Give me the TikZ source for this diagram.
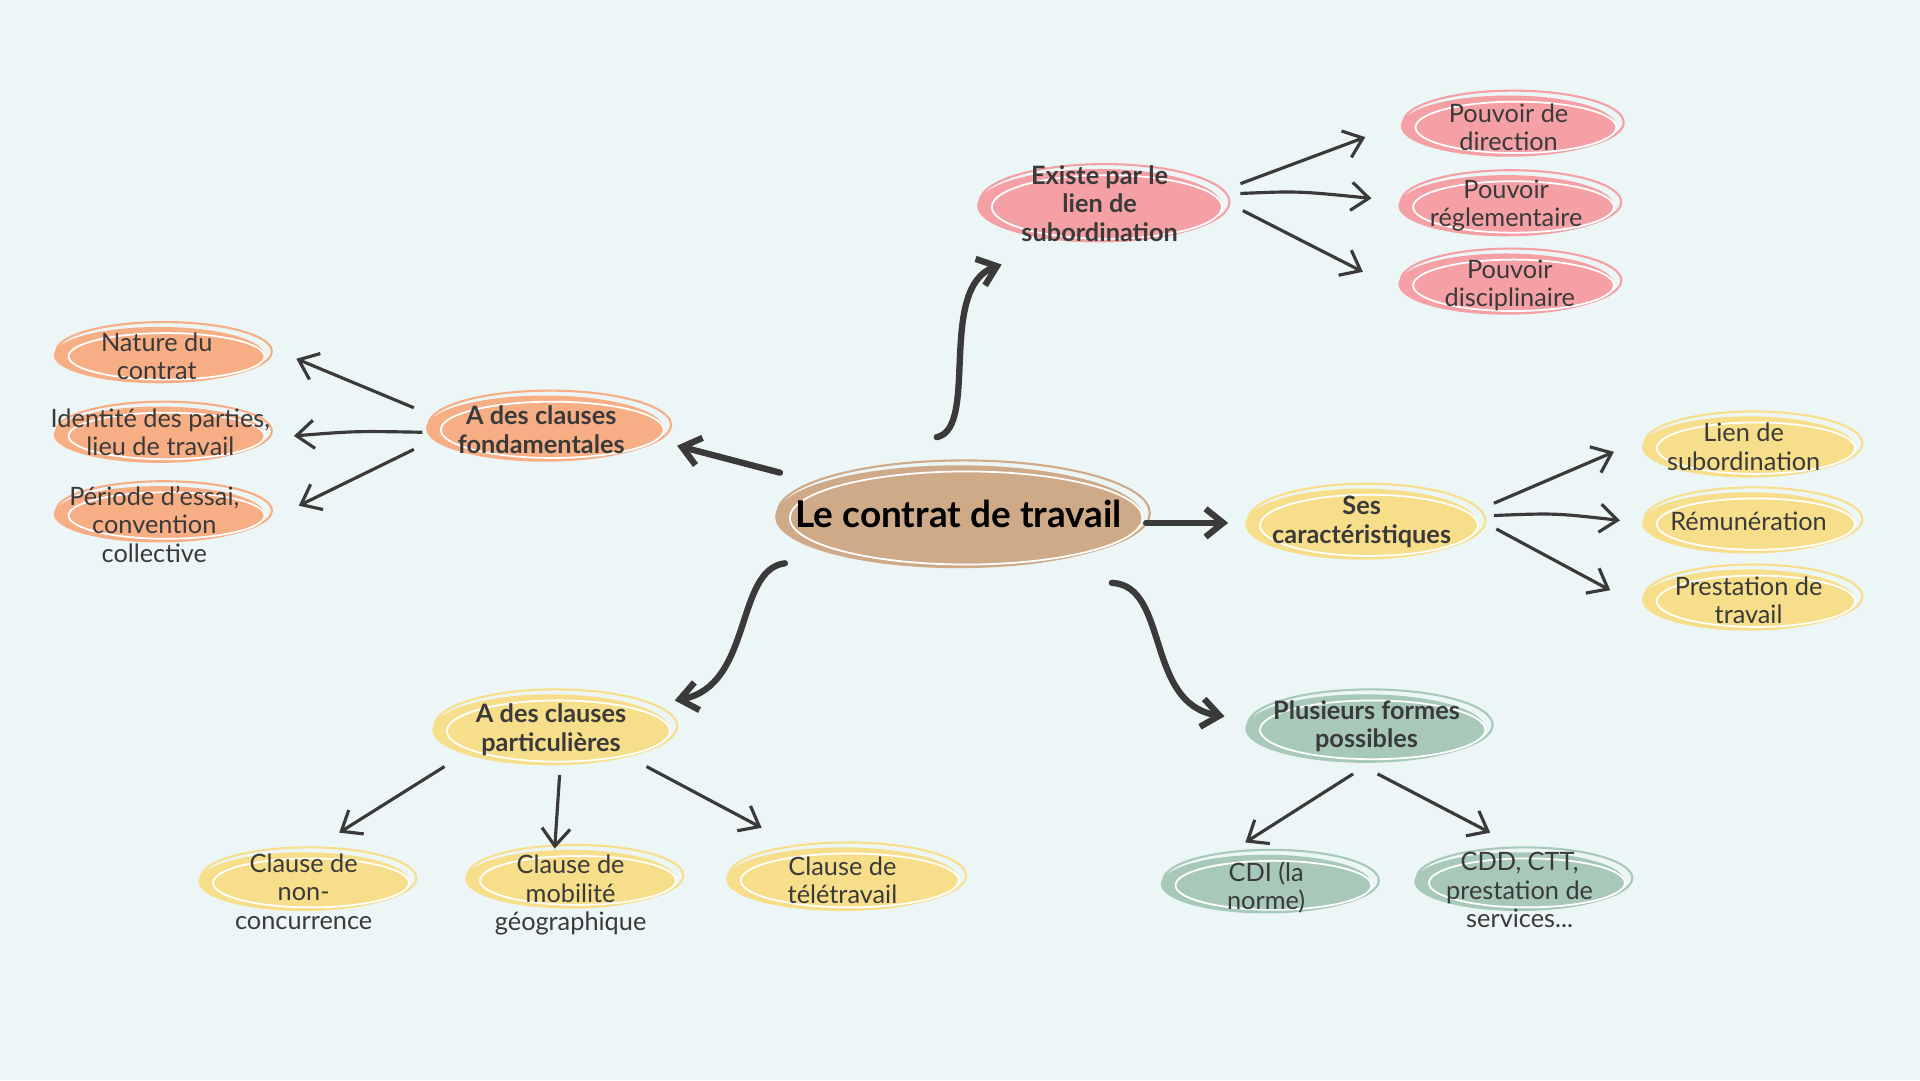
\documentclass[tikz,border=0pt]{standalone}
\usepackage{fontspec}
\setmainfont{Lato}
\usetikzlibrary{arrows.meta}
\definecolor{bg}{HTML}{EDF6F6}
\definecolor{cbrown}{HTML}{CFAA88}
\definecolor{cpink}{HTML}{F4A0A4}
\definecolor{corange}{HTML}{F7AE85}
\definecolor{cyellow}{HTML}{F7DE8A}
\definecolor{cgreen}{HTML}{A8C9BA}
\definecolor{ink}{HTML}{3A3A3A}
\tikzset{
  blob/.style={fill=#1},
  txt/.style={align=center,text=ink,font=\fontsize{7.2}{8.1}\selectfont,inner sep=0pt},
  btxt/.style={txt,font=\bfseries\fontsize{7.2}{8.1}\selectfont},
  thin arrow/.style={draw=ink,line width=0.9pt,-{Straight Barb[length=5pt,width=8pt]}},
  thick arrow/.style={draw=ink,line width=1.8pt,line cap=round,-{Straight Barb[length=5pt,width=8pt]}},
}
\newcommand{\scribble}[5]{% x y rx ry color
  \fill[#5] (#1,#2) ellipse [x radius=#3,y radius=#4];
  \draw[#5,line width=0.6pt] (#1+4,#2-3) ellipse [x radius=#3+2,y radius=#4+1];
  \draw[white,line width=0.5pt] (#1+6,#2+1) ellipse [x radius=#3-6,y radius=#4-4];
}
\begin{document}
\begin{tikzpicture}[x=0.012245cm,y=-0.012245cm]
\fill[bg] (0,0) rectangle (1568,882);
\useasboundingbox (0,0) rectangle (1568,882);
% blobs
\scribble{783}{422}{150}{42}{cbrown}
\scribble{898}{168}{100}{30}{cpink}
\scribble{1232}{103}{88}{25}{cpink}
\scribble{1230}{168}{88}{25}{cpink}
\scribble{1230}{232}{88}{25}{cpink}
\scribble{445}{350}{97}{27}{corange}
\scribble{130}{290}{86}{23}{corange}
\scribble{130}{355}{86}{23}{corange}
\scribble{130}{420}{86}{23}{corange}
\scribble{1112}{428}{95}{29}{cyellow}
\scribble{1428}{365}{87}{25}{cyellow}
\scribble{1428}{427}{87}{25}{cyellow}
\scribble{1428}{490}{87}{25}{cyellow}
\scribble{1115}{595}{98}{28}{cgreen}
\scribble{1034}{722}{86}{24}{cgreen}
\scribble{1241}{720}{86}{24}{cgreen}
\scribble{450}{596}{97}{29}{cyellow}
\scribble{248}{720}{86}{24}{cyellow}
\scribble{466}{718}{86}{24}{cyellow}
\scribble{688}{718}{95}{26}{cyellow}
% texts
\node[btxt,font=\bfseries\fontsize{10.5}{12}\selectfont,text=black] (main) at (783,420) {Le contrat de travail};
\node[btxt] (exi) at (898,166) {Existe par le\\lien de\\subordination};
\node[txt] (p1) at (1232,104) {Pouvoir de\\direction};
\node[txt] (p2) at (1230,168) {Pouvoir\\réglementaire};
\node[txt] (p3) at (1233,233) {Pouvoir\\disciplinaire};
\node[btxt] (fon) at (442,351) {A des clauses\\fondamentales};
\node[txt] (f1) at (128,291) {Nature du\\contrat};
\node[txt] (f2) at (131,353) {Identité des parties,\\lieu de travail};
\node[txt] (f3) at (126,428) {Période d'essai,\\convention\\collective};
\node[btxt] (car) at (1112,426) {Ses\\caractéristiques};
\node[txt] (c1) at (1424,365) {Lien de\\subordination};
\node[txt] (c2) at (1428,426) {Rémunération};
\node[txt] (c3) at (1428,490) {Prestation de\\travail};
\node[btxt] (plu) at (1116,593) {Plusieurs formes\\possibles};
\node[txt] (g1) at (1034,725) {CDI (la\\norme)};
\node[txt] (g2) at (1241,727) {CDD, CTT,\\prestation de\\services...};
\node[btxt] (par) at (450,596) {A des clauses\\particulières};
\node[txt] (q1) at (248,728) {Clause de\\non-\\concurrence};
\node[txt] (q2) at (466,731) {Clause de\\mobilité\\géographique};
\node[txt] (q3) at (688,719) {Clause de\\télétravail};
% main arrows
\draw[thick arrow] (765,357) .. controls (800,350) and (765,235) .. (818,216);
\draw[thick arrow] (637,386) -- (553,364);
\draw[thick arrow] (936,427) -- (1003,427);
\draw[thick arrow] (908,476) .. controls (955,478) and (935,575) .. (1000,585);
\draw[thick arrow] (641,460) .. controls (600,465) and (615,560) .. (551,572);
% thin arrows
\draw[thin arrow] (1013,150) -- (1115,112);
\draw[thin arrow] (1013,158) .. controls (1060,156) .. (1120,162);
\draw[thin arrow] (1015,172) -- (1113,222);
\draw[thin arrow] (338,333) -- (242,293);
\draw[thin arrow] (345,353) .. controls (290,352) .. (240,356);
\draw[thin arrow] (338,367) -- (244,413);
\draw[thin arrow] (1220,411) -- (1318,369);
\draw[thin arrow] (1220,421) .. controls (1270,419) .. (1323,425);
\draw[thin arrow] (1222,432) -- (1315,482);
\draw[thin arrow] (1105,632) -- (1017,688);
\draw[thin arrow] (1125,632) -- (1217,680);
\draw[thin arrow] (363,626) -- (277,680);
\draw[thin arrow] (457,633) -- (453,693);
\draw[thin arrow] (528,626) -- (622,676);
\end{tikzpicture}
\end{document}
